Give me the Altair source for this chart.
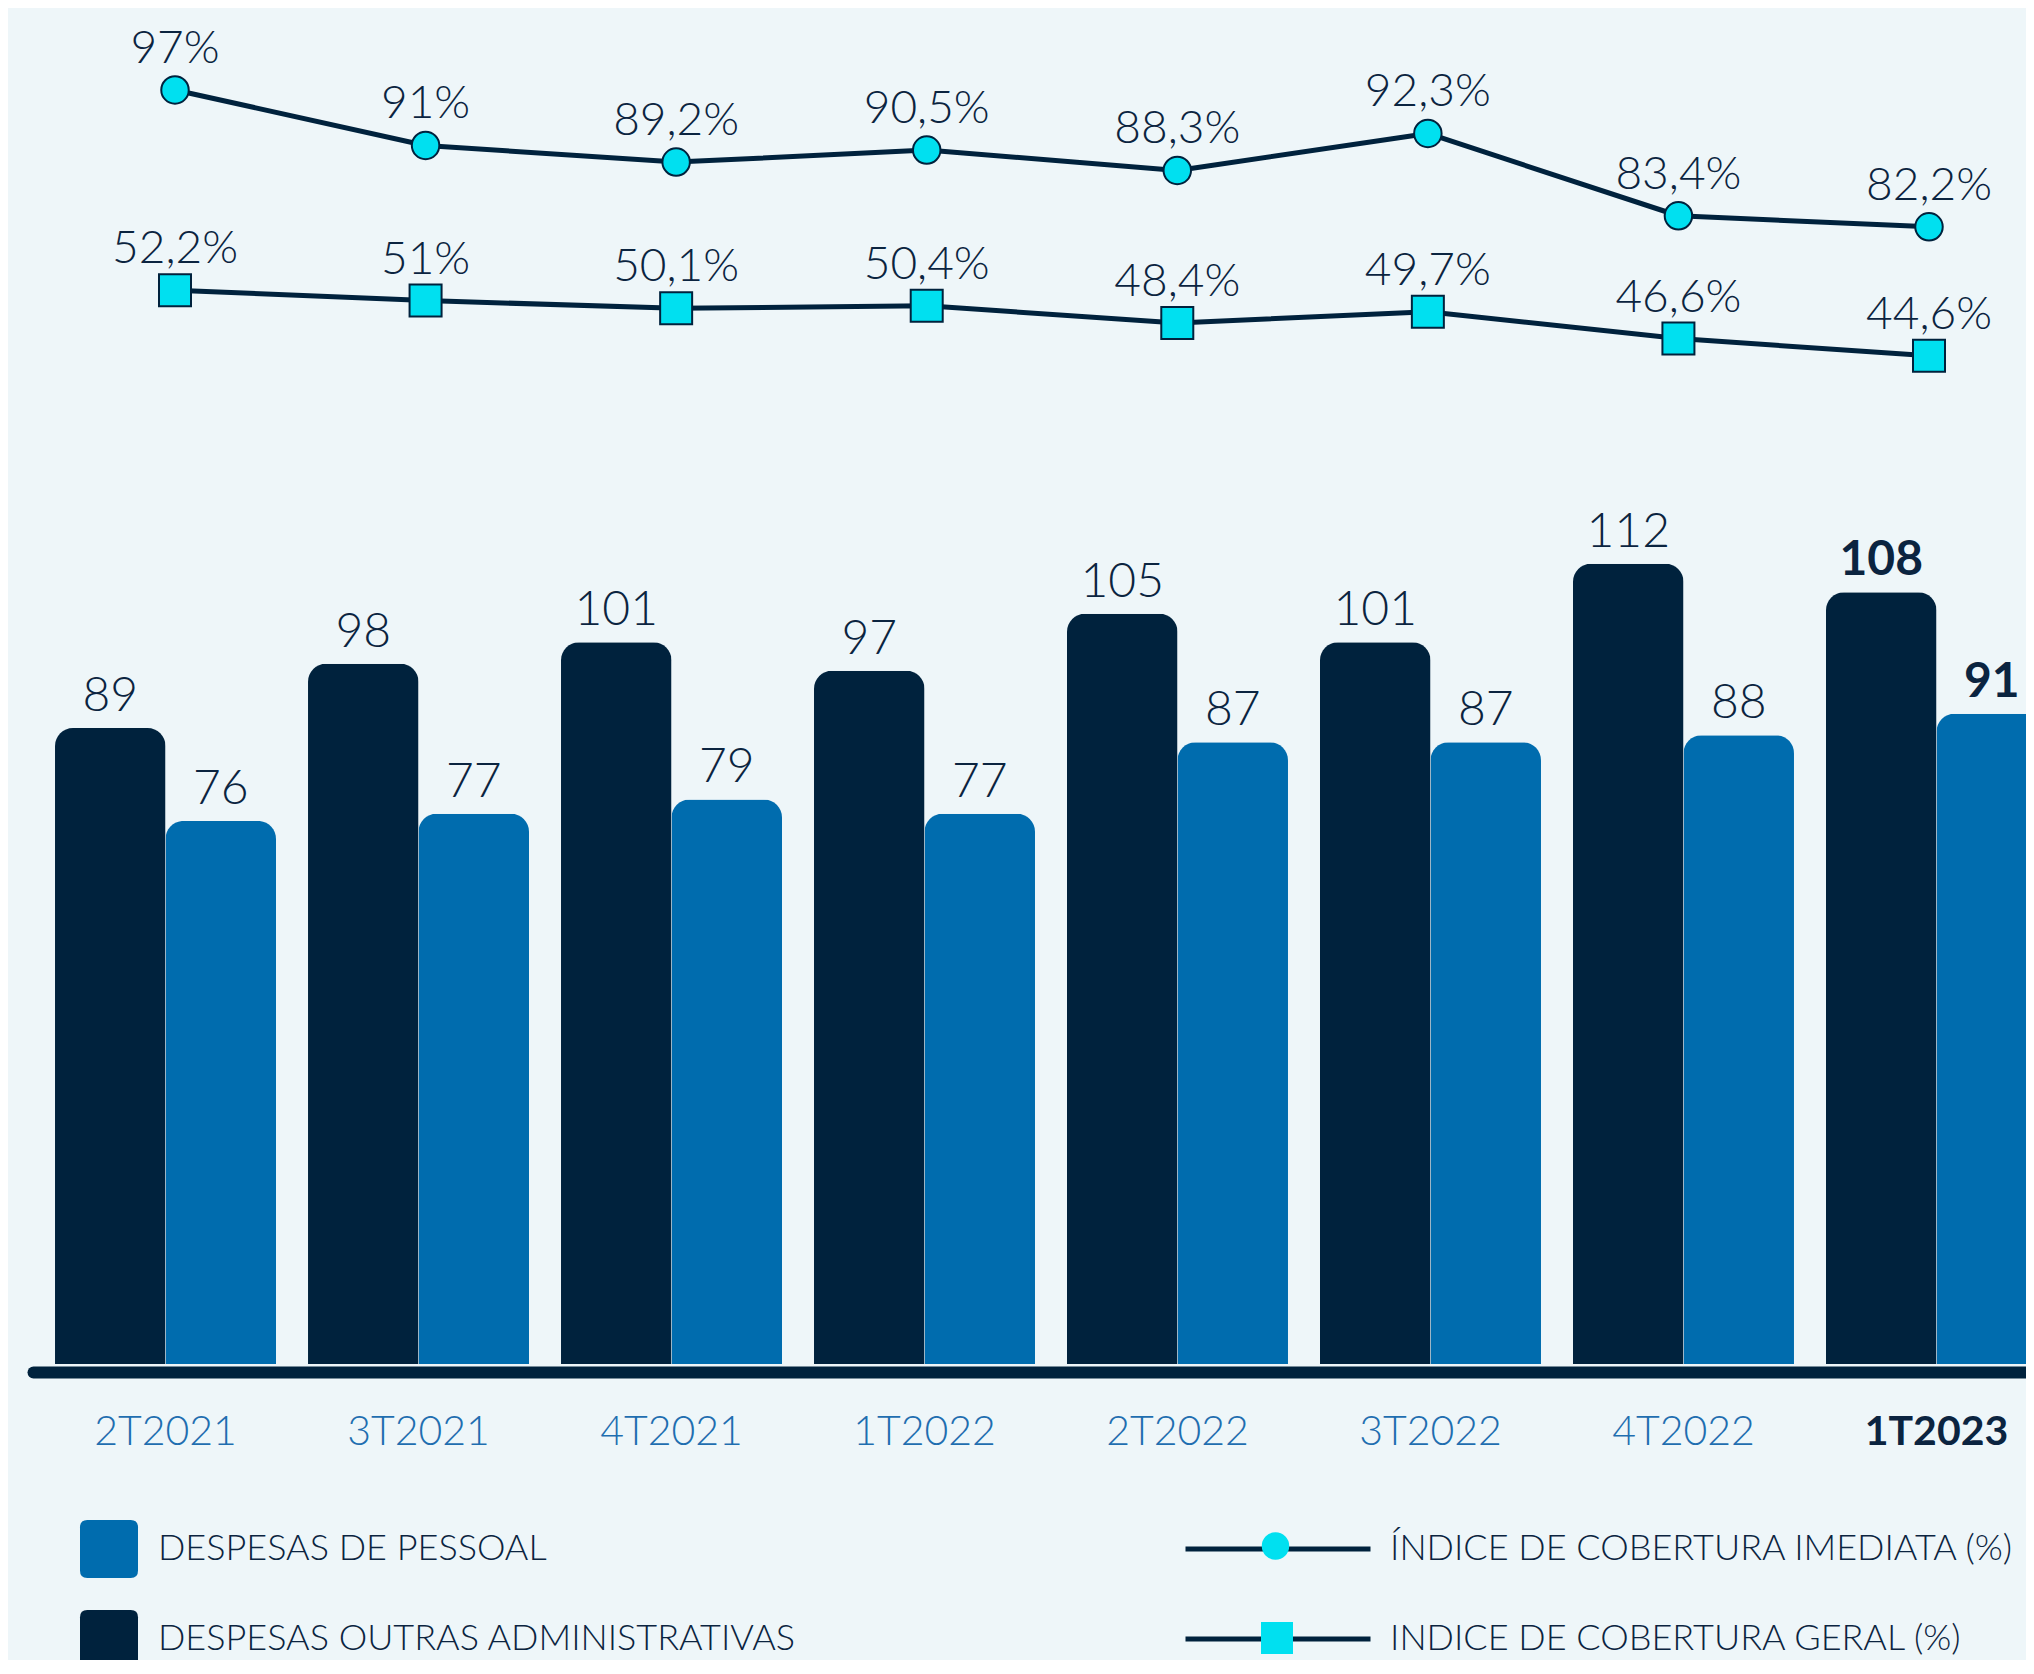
import altair as alt
import pandas as pd

# ---------------- data ----------------
quarters = ["2T2021", "3T2021", "4T2021", "1T2022", "2T2022", "3T2022", "4T2022", "1T2023"]
outras_adm = [89, 98, 101, 97, 105, 101, 112, 108]
pessoal = [76, 77, 79, 77, 87, 87, 88, 91]
cobertura_imediata = [97, 91, 89.2, 90.5, 88.3, 92.3, 83.4, 82.2]
cobertura_geral = [52.2, 51, 50.1, 50.4, 48.4, 49.7, 46.6, 44.6]

S_PES = "DESPESAS DE PESSOAL"
S_OUT = "DESPESAS OUTRAS ADMINISTRATIVAS"
L_IME = "ÍNDICE DE COBERTURA IMEDIATA (%)"
L_GER = "INDICE DE COBERTURA GERAL (%)"
HIGHLIGHT = "1T2023"

# ---------------- style ----------------
BG = "#EEF6F9"
DARK = "#00223D"
BLUE = "#006CAE"
CYAN = "#00E0F0"
TXT = "#0B2440"
AXBLUE = "#1F6EB0"
FONT = "Lato"
LIGHT = 300

W, H = 2018, 1652

bars_df = pd.DataFrame({
    "q": quarters * 2,
    "serie": [S_OUT] * len(quarters) + [S_PES] * len(quarters),
    "valor": outras_adm + pessoal,
})
lines_df = pd.DataFrame({
    "q": quarters,
    "imediata": cobertura_imediata,
    "geral": cobertura_geral,
    "s_ime": [L_IME] * len(quarters),
    "s_ger": [L_GER] * len(quarters),
})

# ---------------- scales ----------------
x_band = alt.Scale(domain=quarters, range=[25, 2061], paddingInner=0.1265, paddingOuter=0.087)
y_bar = alt.Scale(domain=[0, 120], range=[1356, 498.5], nice=False, zero=True)
x_off = alt.Scale(domain=[S_OUT, S_PES], paddingInner=0, paddingOuter=0)
x_pt = alt.Scale(type="point", domain=quarters, range=[167, 1921], padding=0)
y_ime = alt.Scale(domain=[80, 100], range=[239.2, 54.2], nice=False, zero=False)
y_ger = alt.Scale(domain=[40, 60], range=[387.5, 214.9], nice=False, zero=False)

rounded_sq = ("M-0.75,-1 L0.75,-1 Q1,-1 1,-0.75 L1,0.75 Q1,1 0.75,1 L-0.75,1 "
              "Q-1,1 -1,0.75 L-1,-0.75 Q-1,-1 -0.75,-1 Z")

x_axis = alt.Axis(
    title=None, orient="bottom", offset=-288,
    domain=True, domainColor=DARK, domainWidth=12, domainCap="round",
    ticks=False, tickSize=0, grid=False,
    labelPadding=72, labelBaseline="alphabetic", labelAngle=0,
    labelFont=FONT, labelFontSize=41, labelOverlap=False,
    labelColor={"condition": {"test": f"datum.value == '{HIGHLIGHT}'", "value": TXT}, "value": AXBLUE},
    labelFontWeight={"condition": {"test": f"datum.value == '{HIGHLIGHT}'", "value": "bold"}, "value": LIGHT},
)

bar_base = alt.Chart(bars_df).encode(
    x=alt.X("q:N", scale=x_band, axis=x_axis),
    xOffset=alt.XOffset("serie:N", scale=x_off),
    y=alt.Y("valor:Q", scale=y_bar, axis=None),
)

bars = bar_base.mark_bar(cornerRadiusTopLeft=18, cornerRadiusTopRight=18).encode(
    color=alt.Color(
        "serie:N",
        scale=alt.Scale(domain=[S_PES, S_OUT], range=[BLUE, DARK]),
        legend=alt.Legend(
            title=None, orient="none", legendX=72, legendY=1512, direction="vertical",
            symbolType=rounded_sq, symbolSize=3364, symbolStrokeWidth=0, symbolOpacity=1,
            rowPadding=32, labelOffset=20, padding=0,
            labelFont=FONT, labelFontSize=36, labelFontWeight=LIGHT,
            labelColor=TXT, labelLimit=1000,
        ),
    )
)

bar_lbl = bar_base.transform_filter(f"datum.q != '{HIGHLIGHT}'").mark_text(
    dy=-17, baseline="alphabetic", font=FONT, fontSize=48, fontWeight=LIGHT, color=TXT
).encode(text=alt.Text("valor:Q", format="d"))

bar_lbl_b = bar_base.transform_filter(f"datum.q == '{HIGHLIGHT}'").mark_text(
    dy=-17, baseline="alphabetic", font=FONT, fontSize=48, fontWeight="bold", color=TXT
).encode(text=alt.Text("valor:Q", format="d"))

bar_group = alt.layer(bars, bar_lbl, bar_lbl_b)


def series_layers(field, sfield, name, yscale, shape, msize, leg_y_line, leg_y_mark, leg_x_mark):
    base = alt.Chart(lines_df).encode(
        x=alt.X("q:N", scale=x_pt, axis=None),
        y=alt.Y(f"{field}:Q", scale=yscale, axis=None),
    )
    line = base.mark_line(strokeWidth=5, strokeJoin="round", strokeCap="round").encode(
        color=alt.Color(
            f"{sfield}:N",
            scale=alt.Scale(domain=[name], range=[DARK]),
            legend=alt.Legend(
                title=None, orient="none", legendX=1175, legendY=leg_y_line,
                symbolType="stroke", symbolSize=34225, symbolStrokeWidth=5,
                symbolStrokeColor=DARK, labelOffset=17, padding=0,
                labelFont=FONT, labelFontSize=36, labelFontWeight=LIGHT,
                labelColor=TXT, labelLimit=1000,
            ),
        )
    )
    pts = base.mark_point(
        filled=True, size=msize, fill=CYAN, stroke=DARK, strokeWidth=2, opacity=1
    ).encode(
        shape=alt.Shape(
            f"{sfield}:N",
            scale=alt.Scale(domain=[name], range=[shape]),
            legend=alt.Legend(
                title=None, orient="none", legendX=leg_x_mark,
                legendY=leg_y_mark, symbolSize=msize, symbolFillColor=CYAN,
                symbolStrokeColor=DARK, symbolStrokeWidth=2, symbolOpacity=1,
                labelExpr="''", padding=0, zindex=2,
            ),
        )
    )
    lbl = base.transform_calculate(
        t=f"replace(format(datum.{field}, '.1~f'), '.', ',') + '%'"
    ).mark_text(
        dy=-27, baseline="alphabetic", font=FONT, fontSize=46, fontWeight=LIGHT, color=TXT
    ).encode(text="t:N")
    return [line, pts, lbl]


ime = series_layers("imediata", "s_ime", L_IME, y_ime, "circle", 755, 1446, 1523, 1252.5)
ger = series_layers("geral", "s_ger", L_GER, y_ger, "square", 1024, 1536, 1613, 1252)

chart = alt.layer(bar_group, *ime, *ger).resolve_scale(
    x="independent", y="independent", color="independent", shape="independent"
).properties(
    width=W, height=H, autosize=alt.AutoSizeParams(type="none"), padding=0, background=BG
).configure_view(stroke=None)

chart.save("out.html", embed_options={"renderer": "svg", "actions": False})
